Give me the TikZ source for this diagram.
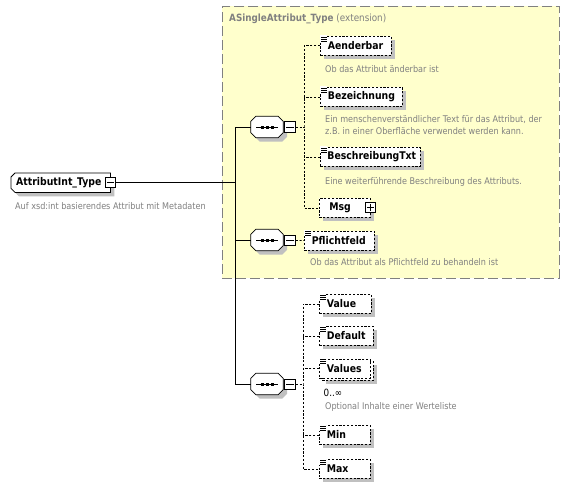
\documentclass[tikz,border=0pt]{standalone}
\usepackage{fontspec}
\setmainfont{DejaVu Sans}[FakeStretch=0.88]
\usetikzlibrary{shadows,calc}
\definecolor{yel}{RGB}{255,255,204}
\definecolor{bord}{RGB}{128,128,128}
\definecolor{shad}{RGB}{192,192,192}
\definecolor{desc}{RGB}{128,128,128}
\newcommand\elemicon[1]{%
  \fill[white] ($(#1.north west)+(0.4,-0.6)$) rectangle ($(#1.north west)+(7,5.6)$);
  \foreach \i in {1,3,5}{\draw[line width=0.6pt] ($(#1.north west)+(1,\i)$) -- +(6,0);}}
\newcommand\seqdraw[1]{%
  \draw[line width=0.8pt, fill=white, drop shadow={shadow xshift=4pt, shadow yshift=-4pt, fill=shad, opacity=1}]
    ($(#1.north west)+(5,0)$) -- ($(#1.north east)+(-5,0)$) -- ($(#1.north east)+(0,5)$) --
    ($(#1.south east)+(0,-5)$) -- ($(#1.south east)+(-5,0)$) -- ($(#1.south west)+(5,0)$) --
    ($(#1.south west)+(0,-5)$) -- ($(#1.north west)+(0,5)$) -- cycle;
  \draw[line width=1pt] ($(#1.center)+(-11,0)$) -- ($(#1.center)+(11,0)$);
  \foreach \d in {-5,0,5}{\fill ($(#1.center)+(\d-1.5,-1.5)$) rectangle +(3,3);}}
\newcommand\minusmark[1]{\draw[line width=0.8pt] ($(#1.west)+(2,0)$) -- ($(#1.east)+(-2,0)$);}
\newcommand\plusmark[1]{\minusmark{#1}\draw[line width=0.8pt] ($(#1.north)+(0,2)$) -- ($(#1.south)+(0,-2)$);}
\begin{document}
\begin{tikzpicture}[x=1pt,y=-1pt,
  elembase/.style={draw, fill=white, line width=0.8pt, dash pattern=on 2.2pt off 1.6pt,
    inner xsep=0pt, inner ysep=0pt, minimum height=19pt, anchor=north west, align=left, text width=#1,
    font=\fontsize{10.6}{13}\selectfont\bfseries},
  elem/.style={elembase=#1, drop shadow={shadow xshift=4pt, shadow yshift=-4pt, fill=shad, opacity=1}},
  dsc/.style={anchor=west, inner sep=0pt, text=desc, font=\fontsize{9.2}{12}\selectfont, align=left},
  tog/.style={draw, solid, fill=white, line width=0.9pt, minimum size=10.5pt, inner sep=0pt},
  seqn/.style={minimum width=32pt, minimum height=21pt, inner sep=0pt},
  grp/.style={draw=bord, fill=yel, line width=0.9pt, dash pattern=on 10pt off 4pt, inner sep=0pt, anchor=north west},
  conn/.style={line width=0.8pt},
  dconn/.style={line width=0.8pt, dash pattern=on 2.2pt off 1.6pt},
]
\useasboundingbox (0,0) rectangle (570,487);
\fill[white] (0,0) rectangle (570,487);
% extension group
\node[grp, minimum width=337pt, minimum height=272pt] (grp) at (222,6) {};
\node[anchor=base west, inner sep=0pt, text=bord, font=\fontsize{10}{12}\selectfont] (ttl) at (229,22) {\textbf{ASingleAttribut\_Type} (extension)};

% root
\node[minimum width=99pt, minimum height=19pt, inner sep=0pt, anchor=north west] (root) at (11,173) {};
\draw[line width=0.8pt, fill=white, drop shadow={shadow xshift=4pt, shadow yshift=-4pt, fill=shad, opacity=1}]
  ($(root.north west)+(4,0)$) -- (root.north east) -- (root.south east) -- ($(root.south west)+(4,0)$) --
  ($(root.south west)+(0,-4)$) -- ($(root.north west)+(0,4)$) -- cycle;
\node[anchor=west, inner sep=0pt, font=\fontsize{10.6}{13}\selectfont\bfseries] (rootlbl) at ($(root.west)+(5,0)$) {AttributInt\_Type};
\node[tog] (rm) at (110.5,182.5) {};
\minusmark{rm}
\node[dsc] (d0) at (15,206) {Auf xsd:int basierendes Attribut mit Metadaten};

% sequences
\node[seqn] (s1) at (267,127) {};
\node[seqn] (s2) at (267,240) {};
\node[seqn] (s3) at (267,384) {};
\seqdraw{s1}\seqdraw{s2}\seqdraw{s3}
\node[tog] (m1) at (290,127) {};
\node[tog] (m2) at (290,240.5) {};
\node[tog] (m3) at (290,384.5) {};
\minusmark{m1}\minusmark{m2}\minusmark{m3}

% trunk
\coordinate (j0) at (235,182.5);
\coordinate (j1) at (235,127);
\coordinate (j3) at (235,384);
\draw[conn] (rm.east) -- (j0);
\draw[conn] (j1) -- (j3);
\draw[conn] (j1) -- (s1.west);
\draw[conn] (s2.west -| j1) -- (s2.west);
\draw[conn] (j3) -- (s3.west);

% elements of first sequence
\node[elem=71pt] (aend) at (320,36) {\hspace*{7.5pt}Aenderbar};
\node[elem=82pt] (bez) at (320,87) {\hspace*{7.5pt}Bezeichnung};
\node[elem=100pt] (besch) at (320,147) {\hspace*{7pt}BeschreibungTxt};
\node[elem=51pt] (msg) at (319,198) {\hspace*{10pt}Msg};
\node[tog] (mp) at (370.5,207.5) {};
\plusmark{mp}
\elemicon{aend}\elemicon{bez}\elemicon{besch}
\node[dsc] (d1) at (325,69) {Ob das Attribut änderbar ist};
\node[dsc] (d2) at (325,125) {Ein menschenverständlicher Text für das Attribut, der\\z.B. in einer Oberfläche verwendet werden kann.};
\node[dsc] (d3) at (325,182) {Eine weiterführende Beschreibung des Attributs.};

\coordinate (b1) at (304,127);
\draw[dconn] (m1.east) -- (b1);
\draw[dconn] (aend.west) -| (b1) |- (msg.west);
\draw[dconn] (bez.west) -- (bez.west -| b1);
\draw[dconn] (besch.west) -- (besch.west -| b1);

% second sequence
\node[elem=70pt] (pfl) at (304,230.5) {\hspace*{7.5pt}Pflichtfeld};
\elemicon{pfl}
\draw[dconn] (m2.east) -- (pfl.west);
\node[dsc] (d4) at (310,262) {Ob das Attribut als Pflichtfeld zu behandeln ist};

% third sequence
\node[elem=52pt] (val) at (319,294) {\hspace*{7.5pt}Value};
\node[elem=54pt] (def) at (319,326) {\hspace*{7.5pt}Default};
\node[elem=51pt] (valsback) at (322,361) {};
\node[elembase=51pt] (vals) at (319,358.5) {\hspace*{7.5pt}Values};
\node[elem=51pt] (min) at (319,425) {\hspace*{7.5pt}Min};
\node[elem=51pt] (max) at (319,459) {\hspace*{7.5pt}Max};
\elemicon{val}\elemicon{def}\elemicon{vals}\elemicon{min}\elemicon{max}
\node[inner sep=0pt, font=\fontsize{10}{12}\selectfont] (occ) at (333,393) {0..∞};
\node[dsc] (d5) at (325,407) {Optional Inhalte einer Werteliste};

\coordinate (b3) at (303,384.5);
\draw[dconn] (m3.east) -- (b3);
\draw[dconn] (val.west) -| (b3) |- (max.west);
\draw[dconn] (def.west) -- (def.west -| b3);
\draw[dconn] (vals.west) -- (vals.west -| b3);
\draw[dconn] (min.west) -- (min.west -| b3);
\end{tikzpicture}
\end{document}
